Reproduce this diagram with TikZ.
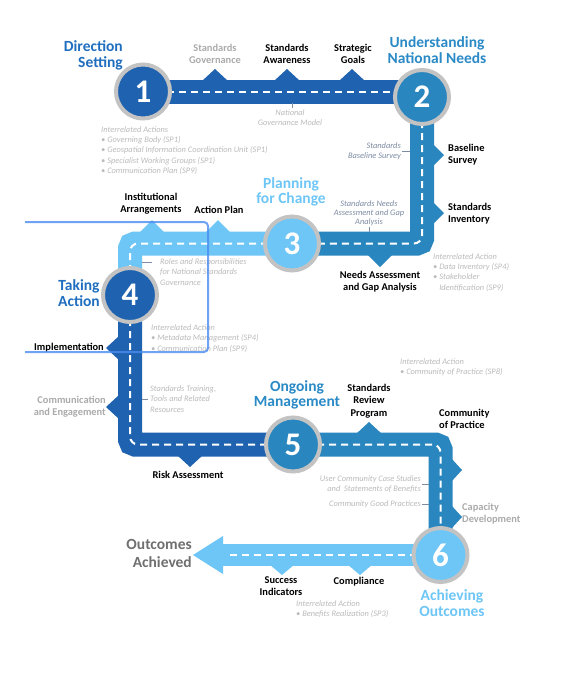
\documentclass[tikz,border=0pt]{standalone}
\usepackage{fontspec}
\setmainfont{Carlito}
\definecolor{dblue}{HTML}{1F62B0}
\definecolor{mblue}{HTML}{2A86BF}
\definecolor{lblue}{HTML}{6EC6F6}
\definecolor{tdblue}{HTML}{1F6EBF}
\definecolor{tmblue}{HTML}{2A8AC6}
\definecolor{ringgrey}{HTML}{C3C3C3}
\definecolor{notegrey}{HTML}{BBBBBB}
\definecolor{slate}{HTML}{7D8CA3}
\definecolor{lblgrey}{HTML}{ABABAB}
\definecolor{outgrey}{HTML}{6F6F6F}
\definecolor{selcol}{HTML}{4A8CF0}
\begin{document}
\begin{tikzpicture}[x=1pt,y=-1pt,
  road/.style={line width=24pt,line cap=butt,rounded corners=5pt},
  centreline/.style={draw=white,line width=2pt,dash pattern=on 7pt off 5pt,rounded corners=8pt},
  stepnum/.style={circle,minimum size=54pt,inner sep=0pt,draw=ringgrey,line width=4pt,
    font=\fontsize{33}{33}\selectfont\bfseries,text=white},
  title/.style={font=\fontsize{15.5}{15.5}\selectfont\bfseries,inner sep=0pt},
  lbl/.style={font=\fontsize{10.4}{12.3}\selectfont\bfseries,inner sep=0pt,text=black,align=center},
  glbl/.style={lbl,text=lblgrey},
  note/.style={font=\fontsize{8.4}{10.3}\selectfont\itshape,inner sep=0pt,text=notegrey,align=left},
  snote/.style={note,text=slate},
  tick/.style={draw=slate,line width=1pt},
  selbox/.style={draw=selcol,line width=2pt,opacity=0.8,rounded corners=4pt}]
\useasboundingbox (0,0) rectangle (570,673);
\fill[white] (0,0) rectangle (570,673);

% centres of the steps
\coordinate (p1) at (143,91.5);
\coordinate (p2) at (422,97);
\coordinate (p3) at (292,243.5);
\coordinate (p4) at (130,295);
\coordinate (p5) at (293,444.5);
\coordinate (p6) at (440.5,555);
\coordinate (ab) at (223,555);
\coordinate (tip) at (193,555);

% ---- roads ----
\draw[road,dblue] (p1) -- (p1 -| p2);
\fill[dblue] (202,81) -- (215,69) -- (228,81) -- cycle;
\fill[dblue] (274,81) -- (287,69) -- (300,81) -- cycle;
\fill[dblue] (339,81) -- (352,69) -- (365,81) -- cycle;
\draw[centreline] (p1) -- (p1 -| p2);

\draw[road,mblue] (p2) |- (p3);
\fill[mblue] (432,143) -- (444,155) -- (432,167) -- cycle;
\fill[mblue] (432,201) -- (444,213) -- (432,225) -- cycle;
\fill[mblue] (367,254) -- (380,267) -- (393,254) -- cycle;
\draw[centreline] (p2) |- (p3);

\draw[road,lblue] (p3) -| (p4);
\fill[lblue] (139,233) -- (152,220) -- (165,233) -- cycle;
\fill[lblue] (205,233) -- (218,220) -- (231,233) -- cycle;
\draw[centreline] (p3) -| (p4);

\draw[road,dblue] (p4) |- (p5);
\fill[dblue] (119,336) -- (106,348) -- (119,360) -- cycle;
\fill[dblue] (119,395) -- (106,407) -- (119,419) -- cycle;
\fill[dblue] (177,455) -- (190,467) -- (203,455) -- cycle;
\draw[centreline] (p4) |- (p5);

\draw[road,mblue] (p5) -| (p6);
\fill[mblue] (356,434) -- (369,422) -- (382,434) -- cycle;
\fill[mblue] (451,458) -- (462,470) -- (451,482) -- cycle;
\fill[mblue] (451,505) -- (462,517) -- (451,529) -- cycle;
\draw[centreline] (p5) -| (p6);

\draw[lblue,line width=22pt] (p6) -- (ab);
\fill[lblue] ([yshift=-19pt]ab) -- (tip) -- ([yshift=19pt]ab) -- cycle;
\fill[lblue] (269,564) -- (282,575) -- (295,564) -- cycle;
\fill[lblue] (347,564) -- (360,575) -- (373,564) -- cycle;
\draw[centreline] (p6) -- ([xshift=2pt]ab);

% ---- step circles ----
\node[stepnum,fill=dblue] (n1) at (p1) {1};
\node[stepnum,fill=mblue] (n2) at (p2) {2};
\node[stepnum,fill=lblue] (n3) at (p3) {3};
\node[stepnum,fill=dblue] (n4) at (p4) {4};
\node[stepnum,fill=mblue] (n5) at (p5) {5};
\node[stepnum,fill=lblue] (n6) at (p6) {6};

% ---- titles ----
\node[title,text=tdblue,align=right,anchor=east] (t1) at (123,55.5) {Direction\\Setting};
\node[title,text=tmblue,align=center] (t2) at (437,50) {Understanding\\National Needs};
\node[title,text=lblue,align=center] (t3) at (291,192) {Planning\\for Change};
\node[title,text=tdblue,align=center] (t4) at (79,293) {Taking\\Action};
\node[title,text=tmblue,align=center] (t5) at (297,395) {Ongoing\\Management};
\node[title,text=lblue,align=center] (t6) at (452,603) {Achieving\\Outcomes};
\node[title,text=outgrey,align=right,anchor=east,font=\fontsize{15.5}{18}\selectfont\bfseries] (t7) at (192,553) {Outcomes\\Achieved};

% ---- activity labels ----
\node[glbl] (a1) at (215,54) {Standards\\Governance};
\node[lbl] (a2) at (287,54) {Standards\\Awareness};
\node[lbl] (a3) at (353,54) {Strategic\\Goals};
\node[lbl,align=left,anchor=west] (a4) at (448,155) {Baseline\\Survey};
\node[lbl,align=left,anchor=west] (a5) at (448,213.5) {Standards\\Inventory};
\node[lbl] (a6) at (380,282) {Needs Assessment\\and Gap Analysis};
\node[lbl] (a7) at (151,204) {Institutional\\Arrangements};
\node[lbl] (a8) at (219,210) {Action Plan};
\node[lbl,anchor=east] (a9) at (104,348) {Implementation};
\node[glbl,align=right,anchor=east] (a10) at (106,407) {Communication\\and Engagement};
\node[lbl] (a11) at (188,475) {Risk Assessment};
\node[lbl] (a12) at (369,401) {Standards\\Review\\Program};
\node[lbl,align=left,anchor=west] (a13) at (439,419) {Community\\of Practice};
\node[glbl,align=left,anchor=west] (a14) at (462,514) {Capacity\\Development};
\node[lbl] (a15) at (281,586) {Success\\Indicators};
\node[lbl] (a16) at (359,582) {Compliance};

% ---- notes ----
\node[note,anchor=west] (r1) at (101,150.5) {Interrelated Actions\\
  \textbullet\ Governing Body (SP1)\\
  \textbullet\ Geospatial Information Coordination Unit (SP1)\\
  \textbullet\ Specialist Working Groups (SP1)\\
  \textbullet\ Communication Plan (SP9)};
\node[note,align=center] (ngm) at (290,117.5) {National\\Governance Model};
\node[snote,align=right,anchor=east] (nbs) at (401,151) {Standards\\Baseline Survey};
\node[snote,align=center,font=\fontsize{8.4}{9.2}\selectfont\itshape] (nna) at (369,213) {Standards Needs\\Assessment and Gap\\Analysis};
\node[note,anchor=west] (r2) at (433,272.5) {Interrelated Action\\
  \textbullet\ Data Inventory (SP4)\\
  \textbullet\ Stakeholder\\
  \phantom{\textbullet\ }Identification (SP9)};
\node[note,anchor=west] (nrr) at (160,272) {Roles and Responsibilities\\for National Standards\\Governance};
\node[note,anchor=west] (r3) at (151,338.5) {Interrelated Action\\
  \textbullet\ Metadata Management (SP4)\\
  \textbullet\ Communication Plan (SP9)};
\node[note,anchor=west] (nst) at (150,399) {Standards Training,\\Tools and Related\\Resources};
\node[note,anchor=west] (r4) at (400,367) {Interrelated Action\\
  \textbullet\ Community of Practice (SP8)};
\node[note,align=right,anchor=east] (nuc) at (421,484) {User Community Case Studies\\and \ Statements of Benefits};
\node[note,anchor=east] (ncg) at (421,504) {Community Good Practices};
\node[note,anchor=west] (r5) at (296,609) {Interrelated Action\\
  \textbullet\ Benefits Realization (SP3)};

% ---- ticks from notes to roads ----
\draw[tick] ([xshift=2pt,yshift=1pt]ngm.north) -- ++(0,-5);
\draw[tick] ([xshift=1pt]nbs.east) -- ++(8,0);
\draw[tick] ([yshift=-1pt]nna.south) -- ++(0,5);
\draw[tick] ([xshift=-8pt,yshift=-4pt]nrr.north west) -- ++(-10,0);
\draw[tick] ([xshift=-2pt]nst.west) -- ++(-6,0);
\draw[tick] ([xshift=1pt]nuc.east) -- ++(7,0);
\draw[tick] ([xshift=1pt]ncg.east) -- ++(7,0);

% ---- selection frame ----
\draw[selbox] (25,222) -- (208,222) -- (208,352) -- (25,352);
\end{tikzpicture}
\end{document}
